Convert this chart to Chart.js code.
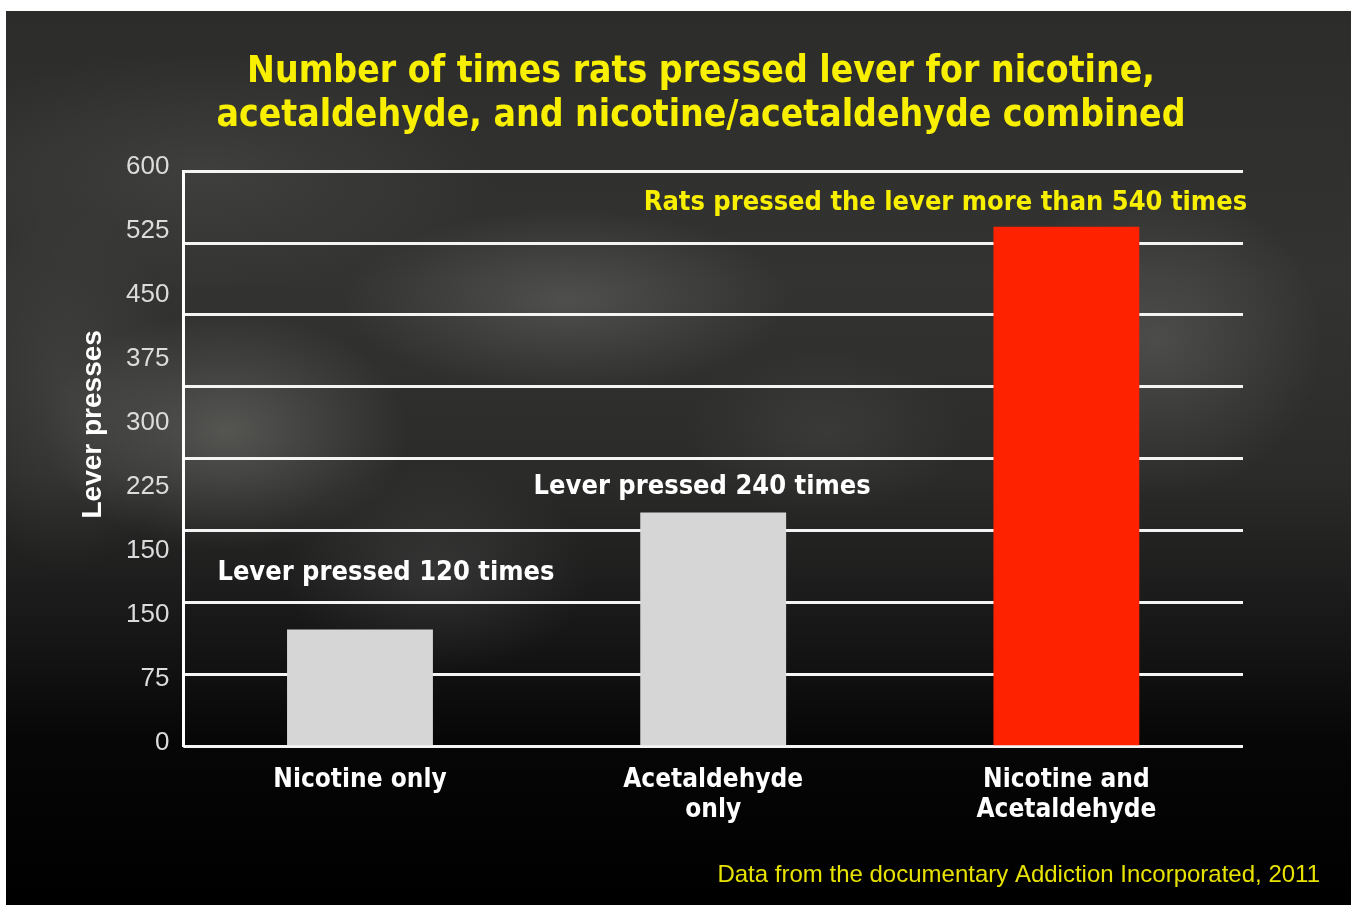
<!DOCTYPE html>
<html>
<head>
<meta charset="utf-8">
<title>Lever presses</title>
<script src="https://cdn.jsdelivr.net/npm/chart.js@4.4.1/dist/chart.umd.min.js"></script>
<style>
  html, body { margin: 0; padding: 0; background: #fff; overflow: hidden; }
  #panel {
    position: absolute; left: 6px; top: 11px; width: 1345px; height: 894px;
    background:
      radial-gradient(ellipse 260px 170px at 220px 420px, rgba(150,150,145,0.38), rgba(0,0,0,0) 70%),
      radial-gradient(ellipse 320px 130px at 560px 290px, rgba(140,140,135,0.32), rgba(0,0,0,0) 70%),
      radial-gradient(ellipse 240px 220px at 1150px 330px, rgba(140,140,135,0.30), rgba(0,0,0,0) 70%),
      radial-gradient(ellipse 220px 150px at 430px 560px, rgba(120,120,120,0.24), rgba(0,0,0,0) 70%),
      radial-gradient(ellipse 200px 120px at 820px 420px, rgba(110,110,108,0.20), rgba(0,0,0,0) 70%),
      radial-gradient(ellipse 420px 170px at 200px 160px, rgba(100,100,98,0.28), rgba(0,0,0,0) 70%),
      radial-gradient(ellipse 160px 260px at 60px 380px, rgba(110,110,108,0.25), rgba(0,0,0,0) 70%),
      linear-gradient(to bottom, #2c2c2b 0%, #333332 30%, #2b2b2a 52%, #161616 70%, #060606 82%, #000 100%);
  }
  canvas { display: block; }
</style>
</head>
<body>
<div id="panel"><canvas id="pressChart" width="1345" height="894"></canvas></div>
<script>
var categories = [["Nicotine only"], ["Acetaldehyde", "only"], ["Nicotine and", "Acetaldehyde"]];
var leverPresses = [122, 244, 542];
var barColors = ["#d6d6d6", "#d6d6d6", "#ff2200"];
var barNotes = ["Lever pressed 120 times", "Lever pressed 240 times", "Rats pressed the lever more than 540 times"];
// the labels on the original axis, as printed (150 appears twice)
var yTickLabels = ["0", "75", "150", "150", "225", "300", "375", "450", "525", "600"];
var chartTitle = ["Number of times rats pressed lever for nicotine,", "acetaldehyde, and nicotine/acetaldehyde combined"];
var axisTitle = "Lever presses";
var footNote = "Data from the documentary Addiction Incorporated, 2011";

var narrow = "'Liberation Sans Narrow', 'DejaVu Sans Condensed', 'Arial Narrow', sans-serif";
var plain = "'Liberation Sans', Arial, sans-serif";
var yellow = "#f8f000";

/* notes above bars, y axis title and source line */
var notesPlugin = {
    id: 'notes',
    afterDatasetsDraw: function (chart) {
        var ctx = chart.ctx, x = chart.scales.x, y = chart.scales.y, area = chart.chartArea;
        var shift = [[26, -57], [-11, -26], [-121, -24]];
        ctx.save();
        ctx.textAlign = 'center';
        ctx.textBaseline = 'middle';
        ctx.font = 'bold 27px ' + narrow;
        barNotes.forEach(function (text, i) {
            ctx.fillStyle = i === 2 ? yellow : '#ffffff';
            ctx.fillText(text, x.getPixelForValue(i) + shift[i][0], y.getPixelForValue(leverPresses[i]) + shift[i][1]);
        });

        ctx.save();
        ctx.translate(area.left - 90, area.top + (area.bottom - area.top) * 0.44);
        ctx.rotate(-Math.PI / 2);
        ctx.font = 'bold 28px ' + plain;
        ctx.fillStyle = '#ffffff';
        ctx.fillText(axisTitle, 0, 0);
        ctx.restore();

        ctx.textAlign = 'right';
        ctx.font = '24px ' + plain;
        ctx.fillStyle = '#e8e200';
        ctx.fillText(footNote, chart.width - 31, chart.height - 30);
        ctx.restore();
    }
};

var ctx = document.getElementById("pressChart");
var pressChart = new Chart(ctx, {
    type: 'bar',
    data: {
        labels: categories,
        datasets: [{
            label: "Lever presses",
            data: leverPresses,
            backgroundColor: barColors,
            yAxisID: 'y',
            barPercentage: 0.413,
            categoryPercentage: 1.0
        }]
    },
    options: {
        responsive: false,
        animation: false,
        layout: { padding: { left: 106, right: 61, top: 0, bottom: 61 } },
        plugins: {
            legend: { display: false },
            tooltip: { enabled: false },
            title: {
                display: true,
                text: chartTitle,
                color: yellow,
                font: { family: narrow, size: 37, weight: 'bold', lineHeight: 1.19 },
                padding: { top: 39, bottom: 33 }
            }
        },
        scales: {
            x: {
                grid: { display: false, drawTicks: false },
                border: { display: false },
                ticks: {
                    color: '#ffffff',
                    padding: 18,
                    font: { family: narrow, size: 26, weight: 'bold', lineHeight: 1.18 }
                }
            },
            yl: {
                type: 'linear',
                position: 'left',
                min: -0.0625,
                max: 8.9375,
                afterBuildTicks: function (scale) {
                    scale.ticks = yTickLabels.map(function (t, i) { return { value: i }; });
                },
                grid: { display: false, drawTicks: false },
                border: { display: true, color: '#ffffff', width: 3 },
                ticks: {
                    color: '#dcdcdc',
                    padding: 14,
                    font: { family: plain, size: 26 },
                    callback: function (value) { return yTickLabels[value]; }
                }
            },
            y: {
                position: 'right',
                min: 0,
                max: 600,
                afterFit: function (scale) { scale.width = 47; },
                ticks: { display: false, stepSize: 75 },
                grid: { color: '#f4f4f4', lineWidth: 3, drawTicks: false },
                border: { display: false }
            }
        }
    },
    plugins: [notesPlugin]
});
</script>
</body>
</html>
